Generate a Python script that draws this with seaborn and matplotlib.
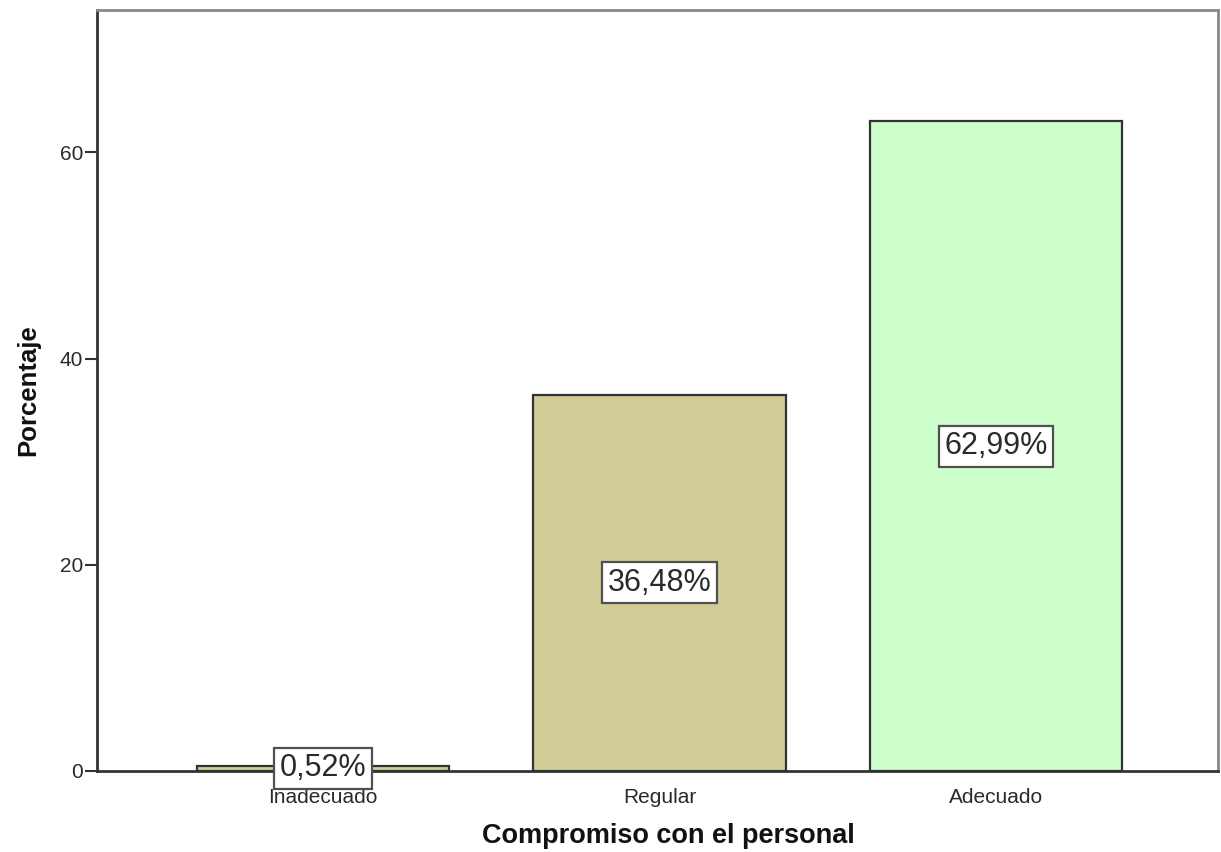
import matplotlib
matplotlib.use("Agg")
import matplotlib.pyplot as plt
import seaborn as sns
import pandas as pd

categorias = ["Inadecuado", "Regular", "Adecuado"]
porcentajes = [0.52, 36.48, 62.99]
etiquetas = ["0,52%", "36,48%", "62,99%"]
colores = ["#d2cc96", "#d2cc96", "#ccffcc"]
ticks_y = [0, 20, 40, 60]

sns.set_theme(style="white")
plt.rcParams["font.family"] = ["Liberation Sans", "DejaVu Sans"]

df = pd.DataFrame({"categoria": categorias, "porcentaje": porcentajes})

fig = plt.figure(figsize=(12.21, 8.52), dpi=100)
ax = fig.add_axes([97 / 1221, 1 - 771 / 852, (1218 - 97) / 1221, (771 - 10) / 852])

sns.barplot(data=df, x="categoria", y="porcentaje", hue="categoria",
            palette=colores, saturation=1, width=0.75, edgecolor="#333333",
            linewidth=1.6, legend=False, ax=ax)

for i, (v, t) in enumerate(zip(porcentajes, etiquetas)):
    ax.text(i, v / 2, t, ha="center", va="center", fontsize=22,
            color="#2a2a2a",
            bbox=dict(boxstyle="square,pad=0.18", facecolor="white",
                      edgecolor="#505050", linewidth=1.6), zorder=5)

ax.set_xlim(-0.672, 2.66)
ax.set_ylim(0, 73.8)
ax.set_yticks(ticks_y)
ax.set_yticklabels([str(t) for t in ticks_y])

ax.tick_params(axis="y", which="both", left=True, length=9, width=1.5,
               color="#333333", labelsize=15, labelcolor="#2a2a2a", pad=1)
ax.tick_params(axis="x", length=0, labelsize=15, labelcolor="#2a2a2a", pad=12)

for side in ["left", "bottom"]:
    ax.spines[side].set_color("#333333")
    ax.spines[side].set_linewidth(2)
for side in ["top", "right"]:
    ax.spines[side].set_color("#888888")
    ax.spines[side].set_linewidth(2)

ax.set_xlabel("Compromiso con el personal", fontsize=19.5, fontweight="bold",
              color="#111111")
ax.xaxis.set_label_coords(0.51, -0.085, transform=ax.transAxes)
ax.xaxis.label.set_va("center")
ax.set_ylabel("Porcentaje", fontsize=18.5, fontweight="bold", labelpad=14,
              color="#111111")

fig.savefig("out.png", dpi=100, facecolor="white")
